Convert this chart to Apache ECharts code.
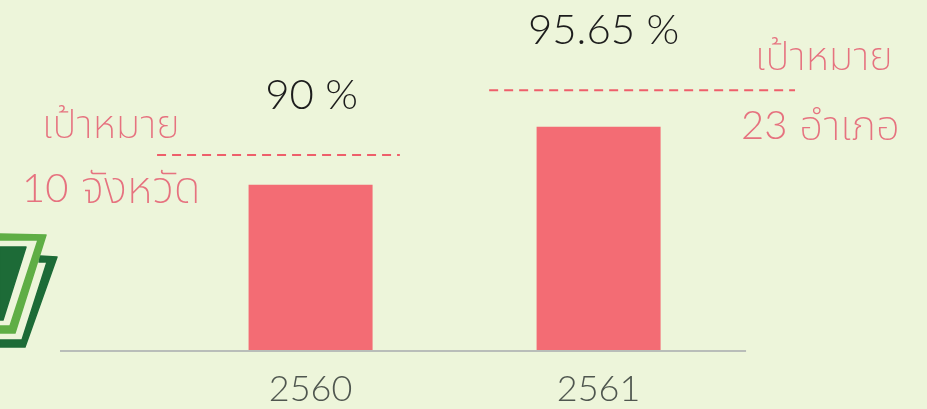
<!DOCTYPE html>
<html>
<head>
<meta charset="utf-8">
<style>
    html, body { margin: 0; padding: 0; background: #edf5da; }
    #barChart { width: 927px; height: 409px; }
</style>
<script src="https://cdn.jsdelivr.net/npm/echarts@6/dist/echarts.min.js"></script>
</head>
<body>
<div id="barChart"></div>
<script>
    const years = [2560, 2561];
    const percents = [90, 95.65];
    const percentLabels = ['90 %', '95.65 %'];
    // target lines: [x, level]
    const target2560 = [[2559.467, 92.9], [2560.31, 92.9]];
    const target2561 = [[2560.62, 99.2], [2561.682, 99.2]];
    const baseline = [[2559.13, 73.8], [2561.512, 73.8]];

    const fontName = 'Lato, "Noto Sans Thai", "Noto Sans", sans-serif';
    const red = '#e6727f';

    let chart = echarts.init(document.getElementById('barChart'));

    function plainLine(points, color, dash) {
        return {
            type: 'line',
            data: points,
            clip: false,
            silent: true,
            symbol: 'none',
            lineStyle: { color: color, width: 2, type: dash }
        };
    }

    // digits only look right at 300, the thai part at 200
    function redText(count, word, x, y, size) {
        return {
            type: 'text',
            x: x,
            y: y,
            style: {
                text: (count ? '{n|' + count + '} ' : '') + '{t|' + word + '}',
                fill: red,
                fontSize: size,
                fontFamily: fontName,
                fontWeight: 200,
                verticalAlign: 'middle',
                rich: {
                    n: { fill: red, fontFamily: fontName, fontWeight: 300, fontSize: 40 },
                    t: { fill: red, fontFamily: fontName, fontWeight: 200, fontSize: size }
                }
            }
        };
    }

    function logoPiece(points, color) {
        return {
            type: 'polygon',
            shape: { points: points },
            style: { fill: color, stroke: color, lineWidth: 1.5, lineJoin: 'round' }
        };
    }

    const option = {
        backgroundColor: '#edf5da',
        animation: false,
        grid: { left: 60, right: 100, top: 0, bottom: 58 },
        xAxis: {
            type: 'value',
            min: 2559.13,
            max: 2561.793,
            splitLine: { show: false },
            axisLine: { show: false },
            axisTick: { show: false },
            axisLabel: {
                customValues: years,
                formatter: function (v) { return String(v); },
                color: '#4f564f',
                fontFamily: fontName,
                fontWeight: 300,
                fontSize: 36,
                margin: 20
            }
        },
        yAxis: {
            type: 'value',
            min: 73.8,
            max: 108,
            show: false
        },
        series: [
            {
                type: 'bar',
                barWidth: 124,
                data: [
                    { value: [years[0], percents[0]], label: { distance: 68, offset: [1, 0] } },
                    { value: [years[1], percents[1]], label: { distance: 75, offset: [5, 0] } }
                ],
                itemStyle: { color: '#f36c74' },
                label: {
                    show: true,
                    position: 'top',
                    formatter: p => percentLabels[p.dataIndex],
                    color: '#1c1c1c',
                    fontFamily: fontName,
                    fontWeight: 300,
                    fontSize: 42
                }
            },
            plainLine(target2560, '#ee5f6b', [9, 6]),
            plainLine(target2561, '#ee5f6b', [9, 6]),
            plainLine(baseline, '#b9bdb9', 'solid')
        ],
        graphic: [
            logoPiece([[0, 347], [25, 347], [57, 257], [40, 256], [39, 262], [47, 262], [22, 340], [0, 340]], '#1d6b37'),
            logoPiece([[0, 333], [15, 333], [46, 235], [0, 234], [0, 240], [38, 240], [10, 326], [0, 326]], '#5fae45'),
            logoPiece([[0, 247], [26, 247], [3, 320], [0, 320]], '#1d6b37'),
            redText('', 'เป้าหมาย', 42, 125, 40),
            redText('10', 'จังหวัด', 22, 189, 44),
            redText('', 'เป้าหมาย', 755, 57, 40),
            redText('23', 'อำเภอ', 741, 126, 42)
        ]
    };

    chart.setOption(option);

    window.addEventListener('resize', function () {
        chart.resize();
    });
</script>
</body>
</html>
